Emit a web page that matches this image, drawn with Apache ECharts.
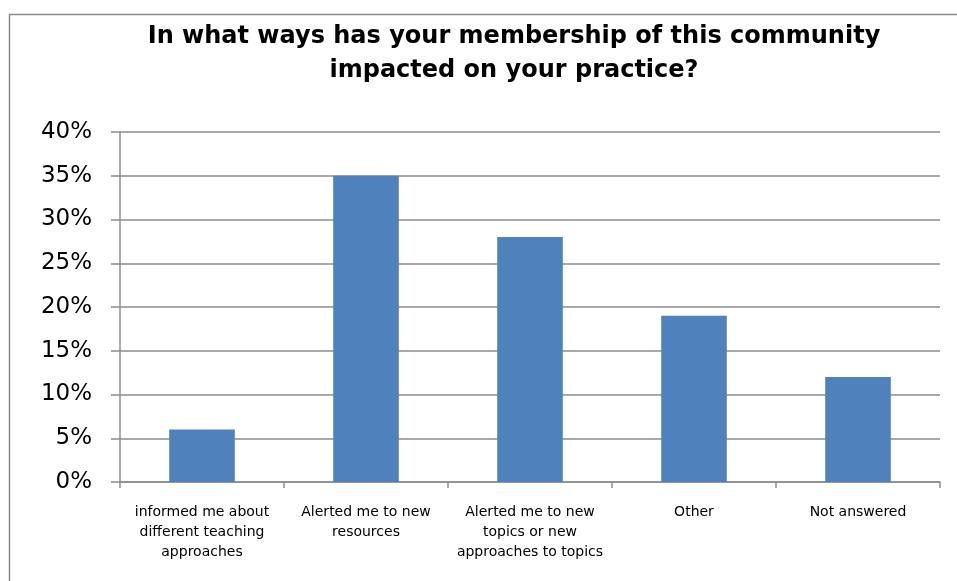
<!DOCTYPE html>
<html>
<head>
<meta charset="utf-8">
<script src="https://cdn.jsdelivr.net/npm/echarts@6/dist/echarts.min.js"></script>
<style>
  html, body { margin: 0; padding: 0; background: #fff; }
  #chart { width: 957px; height: 581px; }
</style>
</head>
<body>
<div id="chart"></div>
<script>
// Survey responses: how membership affected practice (percent of respondents)
const categories = [
  'informed me about\ndifferent teaching\napproaches',
  'Alerted me to new\nresources',
  'Alerted me to new\ntopics or new\napproaches to topics',
  'Other',
  'Not answered'
];
const shares = [6, 35, 28, 19, 12];
const yTicks = { min: 0, max: 40, step: 5 };

const chart = echarts.init(document.getElementById('chart'), null, { renderer: 'canvas' });

chart.setOption({
  animation: false,
  backgroundColor: '#ffffff',
  title: {
    text: 'In what ways has your membership of this community\nimpacted on your practice?',
    left: 509,
    top: 15,
    textAlign: 'center',
    textStyle: {
      fontFamily: 'DejaVu Sans',
      fontWeight: 'bold',
      fontSize: 24,
      lineHeight: 34,
      color: '#000'
    }
  },
  graphic: [{
    type: 'rect',
    silent: true,
    shape: { x: 9.5, y: 14.5, width: 1200, height: 1200 },
    style: { fill: 'none', stroke: '#8a8a8a', lineWidth: 1.5 }
  }],
  grid: { left: 120, right: 17, top: 132, bottom: 99, containLabel: false },
  xAxis: {
    type: 'category',
    data: categories,
    axisLine: { show: true, lineStyle: { color: '#8c8c8c', width: 1.5 } },
    axisTick: { show: true, alignWithLabel: false, length: 6, lineStyle: { color: '#8c8c8c', width: 1.5 } },
    axisLabel: {
      interval: 0,
      margin: 20,
      fontFamily: 'DejaVu Sans',
      fontSize: 14,
      lineHeight: 20,
      color: '#000',
      align: 'center'
    },
    splitLine: { show: false }
  },
  yAxis: {
    type: 'value',
    min: yTicks.min,
    max: yTicks.max,
    interval: yTicks.step,
    axisLine: { show: true, lineStyle: { color: '#8c8c8c', width: 1.5 } },
    axisTick: { show: true, length: 9, lineStyle: { color: '#8c8c8c', width: 1.5 } },
    axisLabel: {
      formatter: '{value}%',
      margin: 28,
      fontFamily: 'DejaVu Sans',
      fontSize: 23,
      color: '#000'
    },
    splitLine: { show: true, lineStyle: { color: '#8c8c8c', width: 1.5 } }
  },
  series: [{
    type: 'bar',
    data: shares,
    barWidth: '40%',
    itemStyle: { color: '#4f81bd' }
  }]
});
</script>
</body>
</html>
